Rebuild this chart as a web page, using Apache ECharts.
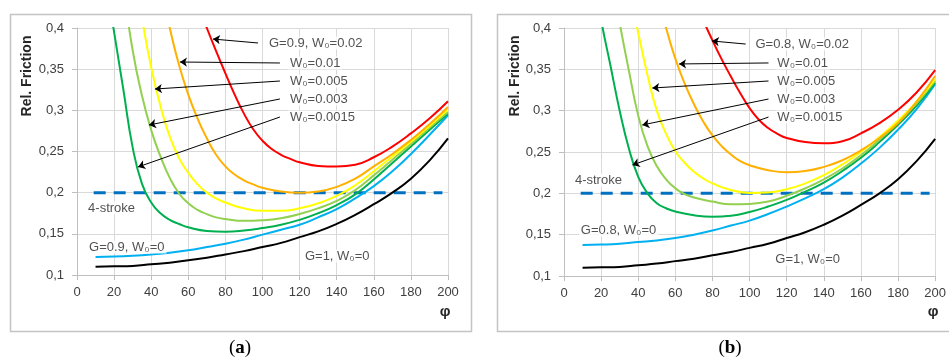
<!DOCTYPE html>
<html><head><meta charset="utf-8">
<script src="https://cdn.jsdelivr.net/npm/echarts@6/dist/echarts.min.js"></script>
<style>html,body{margin:0;padding:0;background:#fff}#c{width:949px;height:363px}</style>
</head><body><div id="c"></div>
<script>
// ---------- data ----------
const xTicks = [0, 20, 40, 60, 80, 100, 120, 140, 160, 180, 200];
const yTicks = [0.1, 0.15, 0.2, 0.25, 0.3, 0.35, 0.4];

// Panel (a): G = 0.9
const aRed    = [[65,0.43],[70,0.40],[75,0.372],[80,0.345],[85,0.319],[90,0.296],[95,0.277],[100,0.263],[105,0.253],[110,0.246],[115,0.241],[120,0.237],[130,0.2325],[140,0.2318],[150,0.234],[160,0.243],[170,0.256],[180,0.272],[190,0.29],[200,0.311]];
const aOrange = [[45,0.45],[50,0.40],[55,0.355],[60,0.319],[65,0.29],[70,0.266],[75,0.246],[80,0.232],[85,0.222],[90,0.215],[95,0.21],[100,0.206],[110,0.2015],[120,0.2],[130,0.2015],[140,0.207],[150,0.217],[160,0.232],[170,0.247],[180,0.264],[190,0.283],[200,0.304]];
const aYellow = [[30,0.48],[35,0.412],[40,0.352],[45,0.305],[50,0.268],[55,0.242],[60,0.224],[65,0.21],[70,0.2],[75,0.193],[80,0.188],[90,0.181],[100,0.178],[110,0.178],[120,0.181],[130,0.187],[140,0.196],[150,0.209],[160,0.226],[170,0.244],[180,0.262],[190,0.281],[200,0.301]];
const aLGreen = [[25,0.45],[30,0.373],[35,0.318],[40,0.276],[45,0.244],[50,0.218],[55,0.199],[60,0.187],[65,0.179],[70,0.174],[75,0.17],[80,0.168],[90,0.1658],[100,0.1665],[110,0.169],[120,0.174],[130,0.181],[140,0.19],[150,0.203],[160,0.221],[170,0.24],[180,0.259],[190,0.279],[200,0.298]];
const aDGreen = [[15,0.465],[20,0.395],[25,0.325],[30,0.255],[35,0.211],[40,0.188],[45,0.175],[50,0.167],[55,0.162],[60,0.158],[70,0.1535],[80,0.1526],[90,0.154],[100,0.157],[110,0.161],[120,0.167],[130,0.175],[140,0.185],[150,0.198],[160,0.216],[170,0.236],[180,0.256],[190,0.276],[200,0.296]];
const aBlue   = [[10,0.122],[20,0.1225],[30,0.1235],[40,0.125],[50,0.127],[60,0.13],[70,0.134],[80,0.138],[90,0.143],[100,0.149],[110,0.155],[120,0.161],[130,0.17],[140,0.18],[150,0.193],[160,0.208],[170,0.226],[180,0.247],[190,0.27],[200,0.294]];

// Panel (b): G = 0.8
const bRed    = [[70,0.44],[75,0.41],[80,0.385],[85,0.362],[90,0.341],[95,0.321],[100,0.303],[105,0.289],[110,0.279],[115,0.272],[120,0.267],[130,0.262],[140,0.2605],[150,0.263],[160,0.2726],[170,0.285],[180,0.301],[190,0.322],[200,0.349]];
const bOrange = [[50,0.44],[55,0.40],[60,0.363],[65,0.333],[70,0.308],[75,0.287],[80,0.27],[85,0.257],[90,0.247],[95,0.239],[100,0.234],[110,0.228],[120,0.2255],[130,0.227],[140,0.232],[150,0.24],[160,0.252],[170,0.267],[180,0.285],[190,0.311],[200,0.342]];
const bYellow = [[35,0.445],[40,0.394],[45,0.343],[50,0.30],[55,0.272],[60,0.251],[65,0.237],[70,0.226],[75,0.218],[80,0.212],[90,0.204],[100,0.2005],[110,0.201],[120,0.205],[130,0.212],[140,0.222],[150,0.235],[160,0.25],[170,0.268],[180,0.288],[190,0.311],[200,0.338]];
const bLGreen = [[25,0.47],[30,0.406],[35,0.348],[40,0.294],[45,0.257],[50,0.233],[55,0.217],[60,0.206],[65,0.199],[70,0.195],[80,0.19],[90,0.1868],[100,0.1872],[110,0.19],[120,0.197],[130,0.206],[140,0.217],[150,0.23],[160,0.246],[170,0.265],[180,0.286],[190,0.309],[200,0.336]];
const bDGreen = [[15,0.48],[20,0.41],[25,0.355],[30,0.30],[35,0.254],[40,0.22],[45,0.2],[50,0.188],[55,0.182],[60,0.178],[70,0.1735],[80,0.1717],[90,0.173],[100,0.1775],[110,0.184],[120,0.192],[130,0.202],[140,0.213],[150,0.227],[160,0.243],[170,0.262],[180,0.283],[190,0.306],[200,0.334]];
const bBlue   = [[10,0.1375],[20,0.138],[30,0.139],[40,0.141],[50,0.143],[60,0.146],[70,0.15],[80,0.155],[90,0.161],[100,0.167],[110,0.175],[120,0.184],[130,0.194],[140,0.205],[150,0.219],[160,0.236],[170,0.255],[180,0.277],[190,0.302],[200,0.332]];

// G = 1, W0 = 0 (both panels)
const gOne = [[10,0.11],[20,0.1105],[30,0.111],[40,0.113],[50,0.115],[60,0.118],[70,0.121],[80,0.125],[90,0.129],[100,0.134],[110,0.139],[120,0.146],[130,0.153],[140,0.162],[150,0.173],[160,0.186],[170,0.2],[180,0.217],[190,0.239],[200,0.266]];
// 4-stroke reference level
const fourStroke = [[9,0.2],[197,0.2]];

// annotation texts (anchored in data space)
const labelsA = [
  [102.4,0.3818,'G=0.9, W₀=0.02'],[113.7,0.3575,'W₀=0.01'],[113.7,0.3356,'W₀=0.005'],
  [113.7,0.3138,'W₀=0.003'],[113.7,0.2919,'W₀=0.0015'],
  [4.9,0.1814,'4-stroke'],[5.4,0.134,'G=0.9, W₀=0'],[121.8,0.123,'G=1, W₀=0']
];
const arrowsA = [
  [[97.6,0.3818],[73.3,0.3866]],[[109.4,0.3575],[55.5,0.3587]],[[109.4,0.3356],[42.0,0.3259]],
  [[109.4,0.3138],[38.8,0.2822]],[[109.4,0.2919],[32.9,0.2312]]
];
const labelsB = [
  [102.1,0.3806,'G=0.8, W₀=0.02'],[113.9,0.3577,'W₀=0.01'],[113.9,0.3359,'W₀=0.005'],
  [113.9,0.3141,'W₀=0.003'],[113.9,0.2923,'W₀=0.0015'],
  [4.8,0.2161,'4-stroke'],[8.0,0.1557,'G=0.8, W₀=0'],[112.8,0.1206,'G=1, W₀=0']
];
const arrowsB = [
  [[97.9,0.3806],[79.7,0.3843]],[[110.2,0.3577],[62.0,0.3565]],[[110.2,0.3359],[47.6,0.3274]],
  [[110.2,0.3141],[42.2,0.2827]],[[110.2,0.2923],[36.9,0.2343]]
];

// ---------- chart ----------
const FONT = "'Liberation Sans', 'DejaVu Sans', Arial, sans-serif";
const TXT = '#262626';
const colors = {red:'#ff0000', orange:'#ffb000', yellow:'#ffff00', lgreen:'#92d050', dgreen:'#00b050', blue:'#00b0f0', black:'#000000', dash:'#0070c0'};

function mkX(i){
  return {type:'value', gridIndex:i, min:0, max:200, interval:20,
    axisLine:{show:true, lineStyle:{color:'#bfbfbf'}},
    axisTick:{show:true, inside:false, length:5, lineStyle:{color:'#bfbfbf'}},
    axisLabel:{fontFamily:FONT, fontSize:13, color:'#404040', margin:11},
    splitLine:{show:true, lineStyle:{color:'#d9d9d9'}}};
}
function mkY(i){
  return {type:'value', gridIndex:i, min:0.1, max:0.4, interval:0.05,
    axisLine:{show:true, lineStyle:{color:'#bfbfbf'}},
    axisTick:{show:true, inside:false, length:5, lineStyle:{color:'#bfbfbf'}},
    axisLabel:{fontFamily:FONT, fontSize:13, color:'#404040', margin:13,
      formatter:v => String(+v.toFixed(2)).replace('.', ',')},
    splitLine:{show:true, lineStyle:{color:'#d9d9d9'}}};
}
function curve(idx, data, color, z){
  return {type:'line', xAxisIndex:idx, yAxisIndex:idx, data:data, showSymbol:false, symbol:'none',
    smooth:0.5, clip:true, lineStyle:{color:color, width:2}, z:z||3, animation:false, silent:true};
}
function panelSeries(idx, s, labels, arrows){
  return [
    {type:'line', xAxisIndex:idx, yAxisIndex:idx, data:fourStroke, symbol:'none', z:2, animation:false, silent:true,
      lineStyle:{color:colors.dash, width:3, type:[12,8]},
      markLine:{silent:true, animation:false, symbol:['none','arrow'], symbolSize:7,
        label:{show:false}, lineStyle:{color:'#000', width:1, type:'solid'},
        data: arrows.map(a => [{coord:a[0]},{coord:a[1]}])}},
    curve(idx, gOne, colors.black),
    curve(idx, s[5], colors.blue),
    curve(idx, s[4], colors.dgreen),
    curve(idx, s[3], colors.lgreen),
    curve(idx, s[2], colors.yellow),
    curve(idx, s[1], colors.orange),
    curve(idx, s[0], colors.red),
    {type:'scatter', xAxisIndex:idx, yAxisIndex:idx, symbolSize:0, z:5, animation:false, silent:true, clip:false,
      data: labels.map(l => ({value:[l[0], l[1]], name:l[2]})),
      label:{show:true, position:'right', distance:0, formatter:p => p.name,
        fontFamily:FONT, fontSize:13, color:TXT, backgroundColor:'#fff', padding:[0,2]}}
  ];
}

const chart = echarts.init(document.getElementById('c'), null, {renderer:'canvas'});
chart.setOption({
  backgroundColor:'#fff',
  animation:false,
  grid:[
    {left:77, top:28, width:371, height:247},
    {left:564, top:28, width:374, height:248}
  ],
  xAxis:[mkX(0), mkX(1)],
  yAxis:[mkY(0), mkY(1)],
  series:[
    ...panelSeries(0, [aRed,aOrange,aYellow,aLGreen,aDGreen,aBlue], labelsA, arrowsA),
    ...panelSeries(1, [bRed,bOrange,bYellow,bLGreen,bDGreen,bBlue], labelsB, arrowsB)
  ],
  graphic:[
    {type:'rect', z:-1, shape:{x:10.5, y:14.5, width:461, height:317}, style:{fill:'none', stroke:'#c4c4c4', lineWidth:1.5}},
    {type:'rect', z:-1, shape:{x:497.5, y:14.5, width:470, height:317}, style:{fill:'none', stroke:'#c4c4c4', lineWidth:1.5}},
    {type:'text', x:27, y:76, rotation:Math.PI/2, style:{text:'Rel. Friction', font:"bold 14px "+FONT, fill:TXT, textAlign:'center', textVerticalAlign:'middle'}},
    {type:'text', x:515, y:76, rotation:Math.PI/2, style:{text:'Rel. Friction', font:"bold 14px "+FONT, fill:TXT, textAlign:'center', textVerticalAlign:'middle'}},
    {type:'text', x:445, y:312, style:{text:'φ', font:"bold 15px "+FONT, fill:TXT, textAlign:'center', textVerticalAlign:'middle'}},
    {type:'text', x:933, y:312, style:{text:'φ', font:"bold 15px "+FONT, fill:TXT, textAlign:'center', textVerticalAlign:'middle'}},
    {type:'text', x:240, y:348, style:{text:'{p|(}{b|a}{p|)}', textAlign:'center', textVerticalAlign:'middle',
      rich:{p:{fontFamily:"'Liberation Serif', serif", fontSize:19, fill:'#000'}, b:{fontFamily:"'Liberation Serif', serif", fontSize:19, fontWeight:'bold', fill:'#000'}}}},
    {type:'text', x:730, y:348, style:{text:'{p|(}{b|b}{p|)}', textAlign:'center', textVerticalAlign:'middle',
      rich:{p:{fontFamily:"'Liberation Serif', serif", fontSize:19, fill:'#000'}, b:{fontFamily:"'Liberation Serif', serif", fontSize:19, fontWeight:'bold', fill:'#000'}}}}
  ]
});
</script>
</body></html>
